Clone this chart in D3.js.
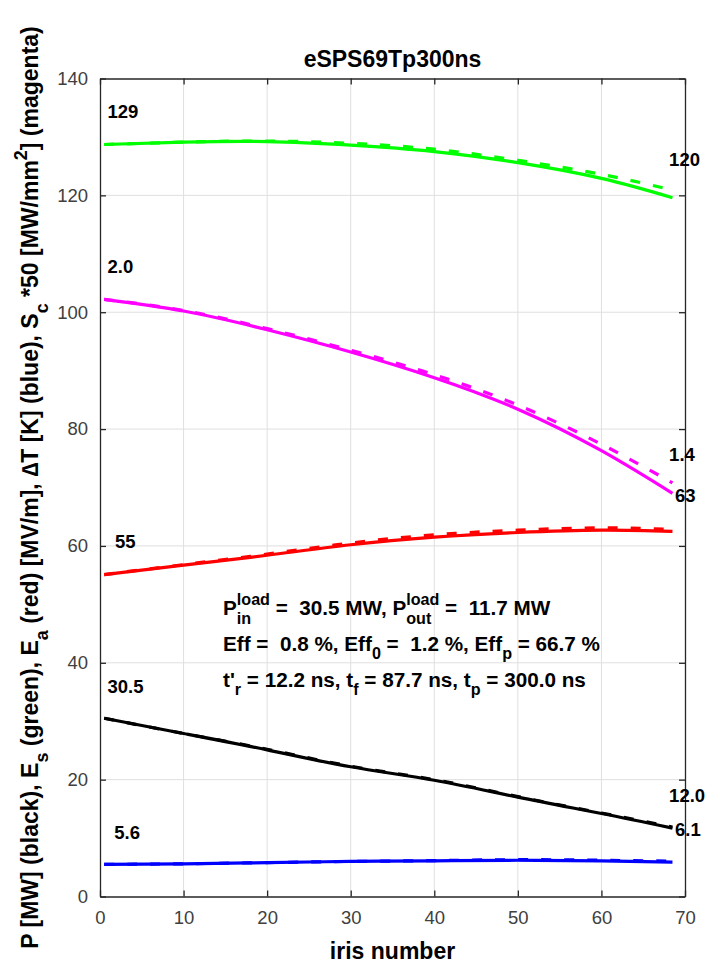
<!DOCTYPE html>
<html><head><meta charset="utf-8">
<script src="https://cdn.jsdelivr.net/npm/d3@7/dist/d3.min.js"></script>
<style>
html,body{margin:0;padding:0;background:#fff;}
text{font-family:"Liberation Sans",Arial,Helvetica,sans-serif;white-space:pre;}
</style></head>
<body><svg id="chart" width="709" height="964"></svg>
<script>
// ---------------- data ----------------
const titleText = "eSPS69Tp300ns";
const xLabelText = "iris number";
const irisX = [0.5, 10, 20, 30, 40, 50, 60, 68.5];
const powerSolid  = [30.5, 27.9, 25.1, 22.2, 19.9, 17.0, 14.2, 11.7];
const powerDashed = [30.5, 27.9, 25.2, 22.3, 20.0, 17.1, 14.3, 11.9];
const esSolid     = [128.7, 129.1, 129.2, 128.6, 127.5, 125.6, 122.9, 119.6];
const esDashed    = [128.7, 129.1, 129.3, 128.9, 127.9, 126.0, 123.6, 120.9];
const eaSolid     = [55.1, 56.7, 58.4, 60.2, 61.5, 62.3, 62.7, 62.5];
const eaDashed    = [55.1, 56.8, 58.6, 60.5, 61.9, 62.7, 63.1, 62.8];
const dtSolid     = [5.5, 5.6, 5.8, 6.0, 6.1, 6.2, 6.1, 5.9];
const dtDashed    = [5.5, 5.6, 5.8, 6.0, 6.15, 6.3, 6.2, 6.05];
const scSolid     = [102.2, 100.2, 97.0, 93.2, 88.8, 83.4, 76.3, 69.0];
const scDashed    = [102.2, 100.3, 97.2, 93.5, 89.3, 84.1, 77.4, 70.8];
const seriesColors = ["#000000", "#00ff00", "#ff0000", "#0000ff", "#ff00ff"];
const xTicks = [0, 10, 20, 30, 40, 50, 60, 70];
const yTicks = [0, 20, 40, 60, 80, 100, 120, 140];
// value labels: text, iris x, y value
const labelTexts = ["129", "2.0", "55", "30.5", "5.6", "120", "1.4", "63", "12.0", "6.1"];
const labelX     = [0.9, 0.9, 1.8, 0.9, 1.7, 68.1, 68.1, 68.8, 68.1, 68.8];
const labelY     = [133.2, 106.7, 59.6, 34.8, 9.8, 125.0, 74.5, 67.5, 16.2, 10.4];

// ---------------- layout ----------------
const svg = d3.select("#chart");
const L = 100, R = 685, T = 78.5, B = 896.5;
const x = d3.scaleLinear().domain([0, 70]).range([L, R]);
const y = d3.scaleLinear().domain([0, 140]).range([B, T]);
const axisColor = "#262626";
const tickFont = 18.5, labFont = 23;

// grid
const grid = svg.append("g");
grid.selectAll(".vg").data(xTicks.slice(1, -1)).enter().append("line")
  .attr("x1", d => x(d)).attr("x2", d => x(d)).attr("y1", T).attr("y2", B)
  .attr("stroke", "#dfdfdf").attr("stroke-width", 1);
grid.selectAll(".hg").data(yTicks.slice(1, -1)).enter().append("line")
  .attr("y1", d => y(d)).attr("y2", d => y(d)).attr("x1", L).attr("x2", R)
  .attr("stroke", "#dfdfdf").attr("stroke-width", 1);

// axes (ticks inward)
const tl = 6;
const ax = d3.axisBottom(x).tickValues(xTicks).tickSizeInner(-tl).tickSizeOuter(0).tickPadding(14);
const axT = d3.axisTop(x).tickValues(xTicks).tickSizeInner(-tl).tickSizeOuter(0).tickFormat("");
const ay = d3.axisLeft(y).tickValues(yTicks).tickSizeInner(-tl).tickSizeOuter(0).tickPadding(12);
const ayR = d3.axisRight(y).tickValues(yTicks).tickSizeInner(-tl).tickSizeOuter(0).tickFormat("");
function styleAxis(g) {
  g.select(".domain").attr("stroke", axisColor).attr("stroke-width", 1.3);
  g.selectAll(".tick line").attr("stroke", axisColor).attr("stroke-width", 1.3);
  g.selectAll(".tick text").attr("fill", "#404040").attr("font-size", tickFont)
    .attr("font-family", "Liberation Sans, Arial, sans-serif");
}
svg.append("g").attr("transform", `translate(0,${B})`).call(ax).call(styleAxis);
svg.append("g").attr("transform", `translate(0,${T})`).call(axT).call(styleAxis);
svg.append("g").attr("transform", `translate(${L},0)`).call(ay).call(styleAxis);
svg.append("g").attr("transform", `translate(${R},0)`).call(ayR).call(styleAxis);

// lines
const line = d3.line().x(d => x(d[0])).y(d => y(d[1])).curve(d3.curveNatural);
const solids = [powerSolid, esSolid, eaSolid, dtSolid, scSolid];
const dashes = [powerDashed, esDashed, eaDashed, dtDashed, scDashed];
const lg = svg.append("g");
solids.forEach((s, i) => {
  lg.append("path").attr("d", line(irisX.map((v, j) => [v, s[j]])))
    .attr("fill", "none").attr("stroke", seriesColors[i]).attr("stroke-width", 3.2)
    .attr("stroke-linejoin", "round");
});
dashes.forEach((s, i) => {
  lg.append("path").attr("d", line(irisX.map((v, j) => [v, s[j]])))
    .attr("fill", "none").attr("stroke", seriesColors[i]).attr("stroke-width", 3.2)
    .attr("stroke-dasharray", "10,13");
});

// value labels
svg.append("g").selectAll("text").data(labelTexts).enter().append("text")
  .attr("x", (d, i) => x(labelX[i])).attr("y", (d, i) => y(labelY[i]))
  .attr("font-size", tickFont).attr("font-weight", "bold").attr("fill", "#000")
  .text(d => d);

// rich text helper: segments [{n:".."} | {sub:".."} | {sup:".."} | {sub, sup}]
function richText(parent, segs, size, color) {
  const g = parent.append("g");
  const small = size * 0.78;
  let cx = 0;
  const mk = (txt, fs, dy, xx) => {
    const t = g.append("text").attr("x", xx).attr("y", dy).attr("font-size", fs)
      .attr("font-weight", "bold").attr("fill", color).text(txt);
    return t.node().getComputedTextLength();
  };
  segs.forEach(s => {
    if (s.n !== undefined) { cx += mk(s.n, size, 0, cx); }
    else {
      let w = 0;
      if (s.sup !== undefined) w = Math.max(w, mk(s.sup, small, -size * 0.5, cx));
      if (s.sub !== undefined) w = Math.max(w, mk(s.sub, small, size * 0.42, cx));
      cx += w;
    }
  });
  return { g, width: cx };
}

// title
const tt = richText(svg, [{n: titleText}], labFont, "#000");
tt.g.attr("transform", `translate(${(L + R) / 2 - tt.width / 2},66.5)`);

// x label
const xl = richText(svg, [{n: xLabelText}], labFont, "#000");
xl.g.attr("transform", `translate(${(L + R) / 2 - xl.width / 2},959)`);

// y label
const yl = richText(svg, [
  {n: "P [MW] (black), E"}, {sub: "s"}, {n: " (green), E"}, {sub: "a"},
  {n: " (red) [MV/m], \u2206T [K] (blue), S"}, {sub: "c"}, {n: " *50 [MW/mm"}, {sup: "2"},
  {n: "] (magenta)"}], labFont, "#000");
yl.g.attr("transform", `translate(38,${(T + B) / 2}) rotate(-90) translate(${-yl.width / 2},0)`);

// annotation
const annFont = 20.7;
const a1 = richText(svg, [{n: "P"}, {sub: "in", sup: "load"}, {n: " =  30.5 MW, P"},
  {sub: "out", sup: "load"}, {n: " =  11.7 MW"}], annFont, "#000");
a1.g.attr("transform", "translate(223,615)");
const a2 = richText(svg, [{n: "Eff =  0.8 %, Eff"}, {sub: "0"}, {n: " =  1.2 %, Eff"},
  {sub: "p"}, {n: " = 66.7 %"}], annFont, "#000");
a2.g.attr("transform", "translate(223,650.5)");
const a3 = richText(svg, [{n: "t'"}, {sub: "r"}, {n: " = 12.2 ns, t"}, {sub: "f"},
  {n: " = 87.7 ns, t"}, {sub: "p"}, {n: " = 300.0 ns"}], annFont, "#000");
a3.g.attr("transform", "translate(223,686.5)");
</script></body></html>
